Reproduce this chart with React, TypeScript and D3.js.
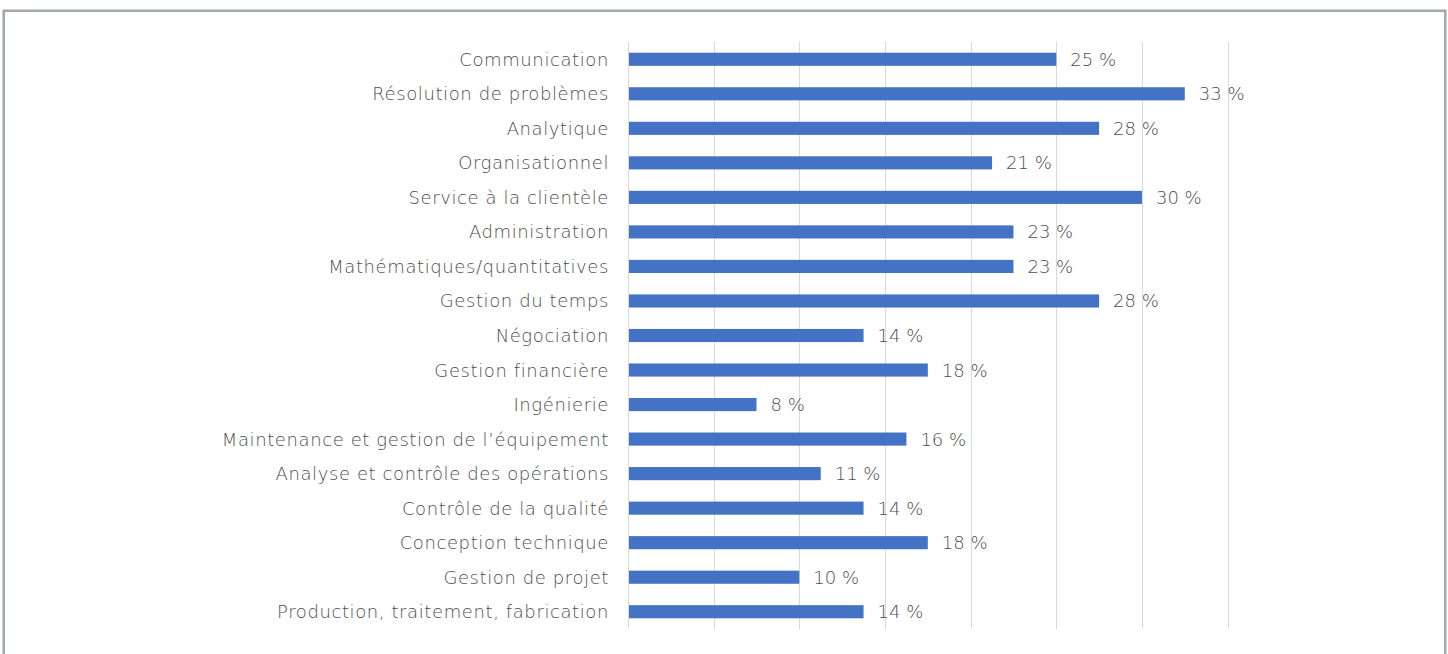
import React from "react";
import * as d3 from "d3";

const categories: string[] = [
  "Communication",
  "Résolution de problèmes",
  "Analytique",
  "Organisationnel",
  "Service à la clientèle",
  "Administration",
  "Mathématiques/quantitatives",
  "Gestion du temps",
  "Négociation",
  "Gestion financière",
  "Ingénierie",
  "Maintenance et gestion de l’équipement",
  "Analyse et contrôle des opérations",
  "Contrôle de la qualité",
  "Conception technique",
  "Gestion de projet",
  "Production, traitement, fabrication",
];

const values: number[] = [
  25, 32.5, 27.5, 21.25, 30, 22.5, 22.5, 27.5, 13.75, 17.5, 7.5, 16.25, 11.25,
  13.75, 17.5, 10, 13.75,
];

const gridTicks: number[] = [0, 5, 10, 15, 20, 25, 30, 35];

const W = 1448;
const H = 654;
const FONT = "'DejaVu Sans', sans-serif";

export default function App() {
  const x = d3.scaleLinear().domain([0, 35]).range([628, 1227.6]);
  const y = d3
    .scaleBand<string>()
    .domain(categories)
    .range([42, 629])
    .paddingInner(0.62)
    .paddingOuter(0.31);
  const [y0, y1] = [42, 629];

  return (
    <svg
      width={W}
      height={H}
      style={{ position: "absolute", left: 0, top: 0, background: "#fff" }}
    >
      <rect x={0} y={0} width={W} height={H} fill="#fff" />
      <rect
        x={3.75}
        y={10.75}
        width={1441.5}
        height={700}
        fill="none"
        stroke="#a0a7ad"
        strokeWidth={2.5}
      />
      {gridTicks.map((t) => (
        <line
          key={t}
          x1={Math.round(x(t)) + 0.5}
          x2={Math.round(x(t)) + 0.5}
          y1={y0}
          y2={y1}
          stroke="#d9d9d9"
          strokeWidth={1}
        />
      ))}
      {categories.map((c, i) => {
        const yy = y(c)!;
        const bw = y.bandwidth();
        const cy = yy + bw / 2;
        return (
          <g key={c}>
            <rect
              x={x(0) + 1}
              y={yy}
              width={x(values[i]) - x(0) - 1}
              height={bw}
              fill="#4472c4"
            />
            <text
              x={609}
              y={cy}
              textAnchor="end"
              dominantBaseline="central"
              fontFamily={FONT}
              fontSize={18}
              fontWeight={300}
              letterSpacing={0.6}
              fill="#4d4d4d"
            >
              {c}
            </text>
            <text
              x={x(values[i]) + 14}
              y={cy}
              dominantBaseline="central"
              fontFamily={FONT}
              fontSize={18}
              fontWeight={300}
              fill="#4d4d4d"
            >
              {`${Math.round(values[i])} %`}
            </text>
          </g>
        );
      })}
    </svg>
  );
}
